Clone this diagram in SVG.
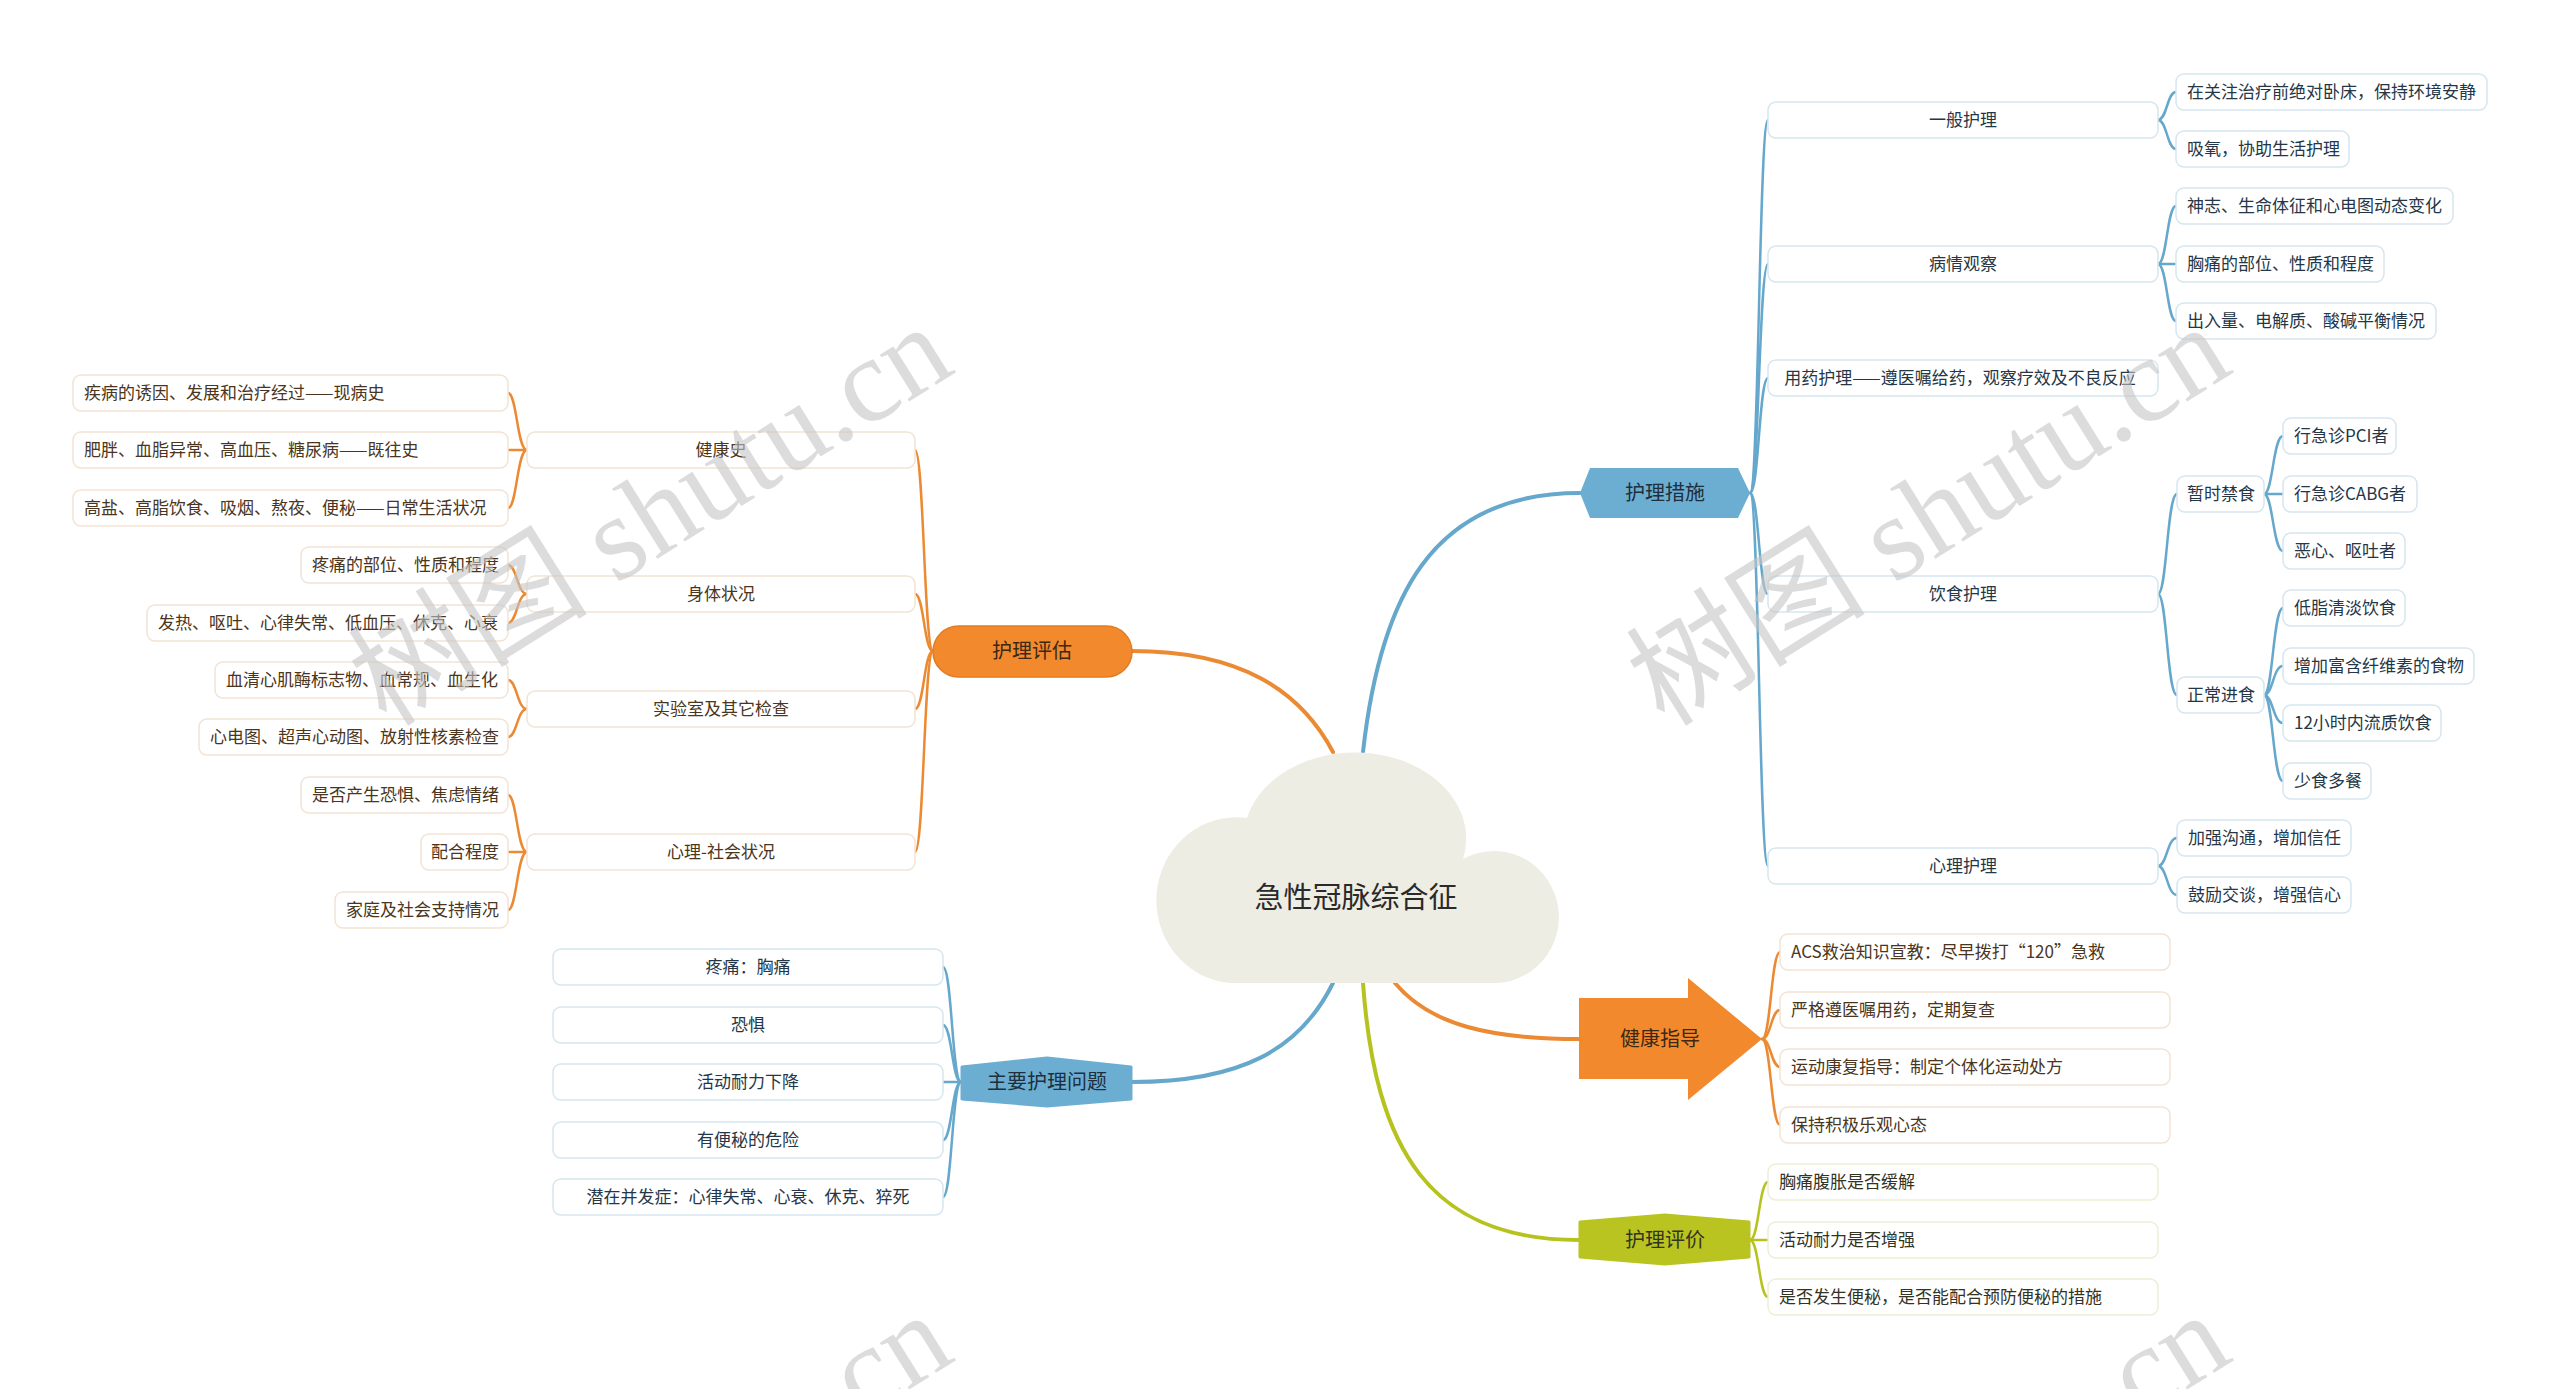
<svg xmlns="http://www.w3.org/2000/svg" width="2560" height="1389" viewBox="0 0 2560 1389">
<style>
text{font-family:"Noto Sans CJK SC","Liberation Sans",sans-serif}
.lo{fill:#fff;stroke:#F3E3D4;stroke-width:1.5}
.lb{fill:#fff;stroke:#D6E6EF;stroke-width:1.5}
.lg{fill:#fff;stroke:#ECEFD6;stroke-width:1.5}
.to{font-size:17px;fill:#4A3520}
.tb{font-size:17px;fill:#253747}
.tg{font-size:17px;fill:#33341F}
.c{text-anchor:middle}
.m{font-size:20px;text-anchor:middle}
.co{fill:none;stroke:#EC8A33;stroke-width:2.5;stroke-linecap:round}
.cb{fill:none;stroke:#65A8CC;stroke-width:2.5;stroke-linecap:round}
.cg{fill:none;stroke:#B6C31F;stroke-width:2.5;stroke-linecap:round}
.wm{font-family:"Liberation Serif","Noto Sans CJK SC",serif;font-size:120px;fill:#C4C4C4;fill-opacity:0.6;text-anchor:middle}
</style>
<rect width="2560" height="1389" fill="#fff"/>

<g id="connectors">
<path class="co" style="stroke-width:4" d="M1132 651 C1240 651 1300 690 1333 752"/>
<path class="cb" style="stroke-width:4" d="M1363 752 C1380 600 1430 493 1580 493"/>
<path class="cb" style="stroke-width:4" d="M1333 983 C1300 1050 1240 1082 1132 1082"/>
<path class="co" style="stroke-width:4" d="M1395 983 C1430 1025 1490 1039 1579 1039"/>
<path class="cg" style="stroke-width:4" d="M1363 983 C1375 1150 1430 1240 1579 1240"/>
<path class="co" d="M933 651 C924 651 924 450 915 450"/>
<path class="co" d="M933 651 C924 651 924 594 915 594"/>
<path class="co" d="M933 651 C924 651 924 709 915 709"/>
<path class="co" d="M933 651 C924 651 924 852 915 852"/>
<path class="co" d="M527 450 C517 450 517 393 508 393"/>
<path class="co" d="M527 450 L508 450"/>
<path class="co" d="M527 450 C517 450 517 508 508 508"/>
<path class="co" d="M527 594 C517 594 517 565 508 565"/>
<path class="co" d="M527 594 C517 594 517 623 508 623"/>
<path class="co" d="M527 709 C517 709 517 680 508 680"/>
<path class="co" d="M527 709 C517 709 517 737 508 737"/>
<path class="co" d="M527 852 C517 852 517 795 508 795"/>
<path class="co" d="M527 852 L508 852"/>
<path class="co" d="M527 852 C517 852 517 910 508 910"/>
<path class="cb" d="M1750 493 C1759 493 1759 120 1768 120"/>
<path class="cb" d="M1750 493 C1759 493 1759 264 1768 264"/>
<path class="cb" d="M1750 493 C1759 493 1759 378 1768 378"/>
<path class="cb" d="M1750 493 C1759 493 1759 594 1768 594"/>
<path class="cb" d="M1750 493 C1759 493 1759 866 1768 866"/>
<path class="cb" d="M2158 120 C2167 120 2167 92 2176 92"/>
<path class="cb" d="M2158 120 C2167 120 2167 149 2176 149"/>
<path class="cb" d="M2158 264 C2167 264 2167 206 2176 206"/>
<path class="cb" d="M2158 264 L2176 264"/>
<path class="cb" d="M2158 264 C2167 264 2167 321 2176 321"/>
<path class="cb" d="M2158 594 C2167 594 2167 494 2177 494"/>
<path class="cb" d="M2158 594 C2167 594 2167 695 2177 695"/>
<path class="cb" d="M2264 494 C2273 494 2273 436 2283 436"/>
<path class="cb" d="M2264 494 L2283 494"/>
<path class="cb" d="M2264 494 C2273 494 2273 551 2283 551"/>
<path class="cb" d="M2264 695 C2273 695 2273 608 2283 608"/>
<path class="cb" d="M2264 695 C2273 695 2273 666 2283 666"/>
<path class="cb" d="M2264 695 C2273 695 2273 723 2283 723"/>
<path class="cb" d="M2264 695 C2273 695 2273 781 2283 781"/>
<path class="cb" d="M2158 866 C2167 866 2167 838 2177 838"/>
<path class="cb" d="M2158 866 C2167 866 2167 895 2177 895"/>
<path class="cb" d="M961 1082 C952 1082 952 967 943 967"/>
<path class="cb" d="M961 1082 C952 1082 952 1025 943 1025"/>
<path class="cb" d="M961 1082 L943 1082"/>
<path class="cb" d="M961 1082 C952 1082 952 1140 943 1140"/>
<path class="cb" d="M961 1082 C952 1082 952 1197 943 1197"/>
<path class="co" d="M1762 1039 C1771 1039 1771 952 1780 952"/>
<path class="co" d="M1762 1039 C1771 1039 1771 1010 1780 1010"/>
<path class="co" d="M1762 1039 C1771 1039 1771 1067 1780 1067"/>
<path class="co" d="M1762 1039 C1771 1039 1771 1125 1780 1125"/>
<path class="cg" d="M1750 1240 C1759 1240 1759 1182 1768 1182"/>
<path class="cg" d="M1750 1240 L1768 1240"/>
<path class="cg" d="M1750 1240 C1759 1240 1759 1297 1768 1297"/>
</g>

<g id="n-center">
<path d="M1247 818 A110 85 0 1 1 1463 859 A65 66 0 1 1 1497 983 L1230 983 A80 83 0 1 1 1247 818 Z" fill="#EEEDE4"/>
<text x="1356" y="908" style="font-size:29px;text-anchor:middle;fill:#2A2A2A">急性冠脉综合征</text>
</g>

<g id="n-hlpg">
<rect x="933" y="626" width="199" height="51" rx="25.5" fill="#F28A2D" stroke="#E27B22" stroke-width="1.5"/>
<text class="m" x="1032" y="658" fill="#3C2814">护理评估</text>
</g>
<g id="n-hlcs">
<polygon points="1580,493 1590,468 1738,468 1750,493 1738,518 1590,518" fill="#6BAED2"/>
<text class="m" x="1665" y="500" fill="#1E2F3D">护理措施</text>
</g>
<g id="n-zywt">
<polygon points="962,1067 1047,1058 1131,1067 1131,1099 1047,1106 962,1099" fill="#6BAED2" stroke="#6BAED2" stroke-width="3" stroke-linejoin="round"/>
<text class="m" x="1047" y="1089" fill="#1E2F3D">主要护理问题</text>
</g>
<g id="n-jkzd">
<polygon points="1579,998 1688,998 1688,978 1762,1039 1688,1100 1688,1079 1579,1079" fill="#F28A2D"/>
<text class="m" x="1660" y="1046" fill="#3C2814">健康指导</text>
</g>
<g id="n-hlpj">
<polygon points="1580,1222 1665,1215 1749,1222 1749,1257 1665,1264 1580,1257" fill="#B9C421" stroke="#B9C421" stroke-width="3" stroke-linejoin="round"/>
<text class="m" x="1665" y="1247" fill="#33341F">护理评价</text>
</g>

<g id="s-jks"><rect class="lo" x="527" y="432" width="388" height="36" rx="8"/><text class="to c" x="721" y="456">健康史</text></g>
<g id="s-stzk"><rect class="lo" x="527" y="576" width="388" height="36" rx="8"/><text class="to c" x="721" y="600">身体状况</text></g>
<g id="s-sys"><rect class="lo" x="527" y="691" width="388" height="36" rx="8"/><text class="to c" x="721" y="715">实验室及其它检查</text></g>
<g id="s-xlsh"><rect class="lo" x="527" y="834" width="388" height="36" rx="8"/><text class="to c" x="721" y="858">心理-社会状况</text></g>

<g id="l-o1"><rect class="lo" x="73" y="375" width="435" height="36" rx="8"/><text class="to" x="84" y="399">疾病的诱因、发展和治疗经过——现病史</text></g>
<g id="l-o2"><rect class="lo" x="73" y="432" width="435" height="36" rx="8"/><text class="to" x="84" y="456">肥胖、血脂异常、高血压、糖尿病——既往史</text></g>
<g id="l-o3"><rect class="lo" x="73" y="490" width="435" height="36" rx="8"/><text class="to" x="84" y="514">高盐、高脂饮食、吸烟、熬夜、便秘——日常生活状况</text></g>
<g id="l-o4"><rect class="lo" x="301" y="547" width="207" height="36" rx="8"/><text class="to" x="312" y="571">疼痛的部位、性质和程度</text></g>
<g id="l-o5"><rect class="lo" x="147" y="605" width="361" height="36" rx="8"/><text class="to" x="158" y="629">发热、呕吐、心律失常、低血压、休克、心衰</text></g>
<g id="l-o6"><rect class="lo" x="215" y="662" width="293" height="36" rx="8"/><text class="to" x="226" y="686">血清心肌酶标志物、血常规、血生化</text></g>
<g id="l-o7"><rect class="lo" x="199" y="719" width="309" height="36" rx="8"/><text class="to" x="210" y="743">心电图、超声心动图、放射性核素检查</text></g>
<g id="l-o8"><rect class="lo" x="301" y="777" width="207" height="36" rx="8"/><text class="to" x="312" y="801">是否产生恐惧、焦虑情绪</text></g>
<g id="l-o9"><rect class="lo" x="421" y="834" width="87" height="36" rx="8"/><text class="to" x="431" y="858">配合程度</text></g>
<g id="l-o10"><rect class="lo" x="335" y="892" width="173" height="36" rx="8"/><text class="to" x="346" y="916">家庭及社会支持情况</text></g>

<g id="s-ybhl"><rect class="lb" x="1768" y="102" width="390" height="36" rx="8"/><text class="tb c" x="1963" y="126">一般护理</text></g>
<g id="s-bqgc"><rect class="lb" x="1768" y="246" width="390" height="36" rx="8"/><text class="tb c" x="1963" y="270">病情观察</text></g>
<g id="s-yyhl"><rect class="lb" x="1768" y="360" width="390" height="36" rx="8"/><text class="tb c" x="1960" y="384">用药护理——遵医嘱给药，观察疗效及不良反应</text></g>
<g id="s-ysh"><rect class="lb" x="1768" y="576" width="390" height="36" rx="8"/><text class="tb c" x="1963" y="600">饮食护理</text></g>
<g id="s-xlhl"><rect class="lb" x="1768" y="848" width="390" height="36" rx="8"/><text class="tb c" x="1963" y="872">心理护理</text></g>

<g id="l-b1"><rect class="lb" x="2176" y="74" width="311" height="36" rx="8"/><text class="tb" x="2187" y="98">在关注治疗前绝对卧床，保持环境安静</text></g>
<g id="l-b2"><rect class="lb" x="2176" y="131" width="173" height="36" rx="8"/><text class="tb" x="2187" y="155">吸氧，协助生活护理</text></g>
<g id="l-b3"><rect class="lb" x="2176" y="188" width="277" height="36" rx="8"/><text class="tb" x="2187" y="212">神志、生命体征和心电图动态变化</text></g>
<g id="l-b4"><rect class="lb" x="2176" y="246" width="208" height="36" rx="8"/><text class="tb" x="2187" y="270">胸痛的部位、性质和程度</text></g>
<g id="l-b5"><rect class="lb" x="2176" y="303" width="260" height="36" rx="8"/><text class="tb" x="2187" y="327">出入量、电解质、酸碱平衡情况</text></g>
<g id="l-b6"><rect class="lb" x="2177" y="476" width="87" height="36" rx="8"/><text class="tb" x="2187" y="500">暂时禁食</text></g>
<g id="l-b7"><rect class="lb" x="2177" y="677" width="87" height="36" rx="8"/><text class="tb" x="2187" y="701">正常进食</text></g>
<g id="l-b8"><rect class="lb" x="2283" y="418" width="113" height="36" rx="8"/><text class="tb" x="2294" y="442">行急诊PCI者</text></g>
<g id="l-b9"><rect class="lb" x="2283" y="476" width="134" height="36" rx="8"/><text class="tb" x="2294" y="500">行急诊CABG者</text></g>
<g id="l-b10"><rect class="lb" x="2283" y="533" width="122" height="36" rx="8"/><text class="tb" x="2294" y="557">恶心、呕吐者</text></g>
<g id="l-b11"><rect class="lb" x="2283" y="590" width="122" height="36" rx="8"/><text class="tb" x="2294" y="614">低脂清淡饮食</text></g>
<g id="l-b12"><rect class="lb" x="2283" y="648" width="191" height="36" rx="8"/><text class="tb" x="2294" y="672">增加富含纤维素的食物</text></g>
<g id="l-b13"><rect class="lb" x="2283" y="705" width="158" height="36" rx="8"/><text class="tb" x="2294" y="729">12小时内流质饮食</text></g>
<g id="l-b14"><rect class="lb" x="2283" y="763" width="88" height="36" rx="8"/><text class="tb" x="2294" y="787">少食多餐</text></g>
<g id="l-b15"><rect class="lb" x="2177" y="820" width="174" height="36" rx="8"/><text class="tb" x="2188" y="844">加强沟通，增加信任</text></g>
<g id="l-b16"><rect class="lb" x="2177" y="877" width="174" height="36" rx="8"/><text class="tb" x="2188" y="901">鼓励交谈，增强信心</text></g>

<g id="l-p1"><rect class="lb" x="553" y="949" width="390" height="36" rx="8"/><text class="tb c" x="748" y="973">疼痛：胸痛</text></g>
<g id="l-p2"><rect class="lb" x="553" y="1007" width="390" height="36" rx="8"/><text class="tb c" x="748" y="1031">恐惧</text></g>
<g id="l-p3"><rect class="lb" x="553" y="1064" width="390" height="36" rx="8"/><text class="tb c" x="748" y="1088">活动耐力下降</text></g>
<g id="l-p4"><rect class="lb" x="553" y="1122" width="390" height="36" rx="8"/><text class="tb c" x="748" y="1146">有便秘的危险</text></g>
<g id="l-p5"><rect class="lb" x="553" y="1179" width="390" height="36" rx="8"/><text class="tb c" x="748" y="1203">潜在并发症：心律失常、心衰、休克、猝死</text></g>

<g id="l-g1"><rect class="lo" x="1780" y="934" width="390" height="36" rx="8"/><text class="to" x="1791" y="958">ACS救治知识宣教：尽早拨打“120”急救</text></g>
<g id="l-g2"><rect class="lo" x="1780" y="992" width="390" height="36" rx="8"/><text class="to" x="1791" y="1016">严格遵医嘱用药，定期复查</text></g>
<g id="l-g3"><rect class="lo" x="1780" y="1049" width="390" height="36" rx="8"/><text class="to" x="1791" y="1073">运动康复指导：制定个体化运动处方</text></g>
<g id="l-g4"><rect class="lo" x="1780" y="1107" width="390" height="36" rx="8"/><text class="to" x="1791" y="1131">保持积极乐观心态</text></g>

<g id="l-e1"><rect class="lg" x="1768" y="1164" width="390" height="36" rx="8"/><text class="tg" x="1779" y="1188">胸痛腹胀是否缓解</text></g>
<g id="l-e2"><rect class="lg" x="1768" y="1222" width="390" height="36" rx="8"/><text class="tg" x="1779" y="1246">活动耐力是否增强</text></g>
<g id="l-e3"><rect class="lg" x="1768" y="1279" width="390" height="36" rx="8"/><text class="tg" x="1779" y="1303">是否发生便秘，是否能配合预防便秘的措施</text></g>

<g id="watermarks">
<text class="wm" x="653" y="555" transform="rotate(-32 653 519)">树图 shutu.cn</text>
<text class="wm" x="1931" y="555" transform="rotate(-32 1931 519)">树图 shutu.cn</text>
<text class="wm" x="653" y="1543" transform="rotate(-32 653 1507)">树图 shutu.cn</text>
<text class="wm" x="1931" y="1543" transform="rotate(-32 1931 1507)">树图 shutu.cn</text>
</g>
</svg>
